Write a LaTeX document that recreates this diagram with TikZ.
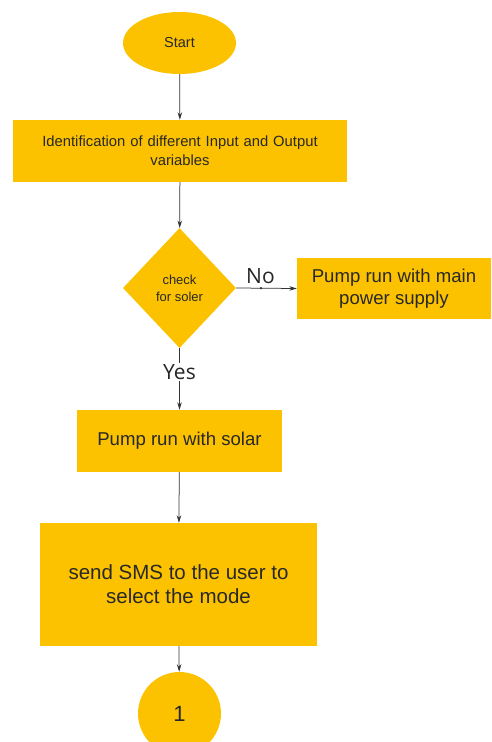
\documentclass[tikz,border=0pt]{standalone}
\usepackage{fontspec}
\setmainfont{Liberation Sans}
\newfontfamily\labelfont{Open Sans}
\usetikzlibrary{shapes.geometric,arrows.meta}
\definecolor{flowyellow}{RGB}{252,194,0}
\definecolor{flowtext}{RGB}{40,40,40}

\begin{document}
\begin{tikzpicture}[
    x=1pt, y=-1pt,
    blk/.style={fill=flowyellow, draw=none, align=center, text=flowtext, inner sep=0pt},
    procbox/.style={blk, rectangle},
    termnode/.style={blk, ellipse},
    decnode/.style={blk, diamond},
    connode/.style={blk, circle},
    arr/.style={-{Stealth[length=7.5pt,width=4.5pt]}, line width=0.75pt, draw=black!80},
    ln/.style={line width=0.75pt, draw=black!80},
    branch/.style={font=\labelfont\fontsize{21}{24}\selectfont, text=black!85, inner sep=1pt}
]
\useasboundingbox (0,0) rectangle (491,742);

\node[termnode, minimum width=113pt, minimum height=62pt,
      font=\fontsize{14.5}{17}\selectfont] (start) at (179.5,43) {Start};
\node[procbox, minimum width=334pt, minimum height=62pt, text width=300pt,
      font=\fontsize{14.8}{19}\selectfont] (ident) at (180,151)
      {Identification of different Input and Output\\variables};
\node[decnode, minimum width=113pt, minimum height=120pt,
      font=\fontsize{13}{17}\selectfont] (check) at (179.5,288) {check\\for soler};
\node[procbox, minimum width=194pt, minimum height=61pt,
      font=\fontsize{18.6}{22}\selectfont] (mains) at (394,288.5)
      {Pump run with main\\power supply};
\node[branch] (yes) at (179.5,372) {Yes};
\node[procbox, minimum width=205pt, minimum height=62pt,
      font=\fontsize{18.6}{22}\selectfont] (solar) at (179.5,441) {Pump run with solar};
\node[procbox, minimum width=277pt, minimum height=123pt,
      font=\fontsize{20.5}{24}\selectfont] (sms) at (178.5,584.5)
      {send SMS to the user to\\select the mode};
\node[connode, minimum size=83pt,
      font=\fontsize{22}{26}\selectfont] (one) at (179.5,713.5) {1};

\draw[arr] (start) -- (ident);
\draw[arr] (ident) -- (check);
\draw[arr] (check.east) --
    node[pos=0.41, circle, fill=black!80, inner sep=0.9pt] {}
    node[pos=0.4, above=3pt, branch] {No}
    (mains.west);
\draw[ln] (check.south) -- (yes.north);
\draw[arr] (yes.south) -- (solar.north);
\draw[arr] (solar) -- (sms);
\draw[arr] (sms) -- (one);
\end{tikzpicture}
\end{document}
